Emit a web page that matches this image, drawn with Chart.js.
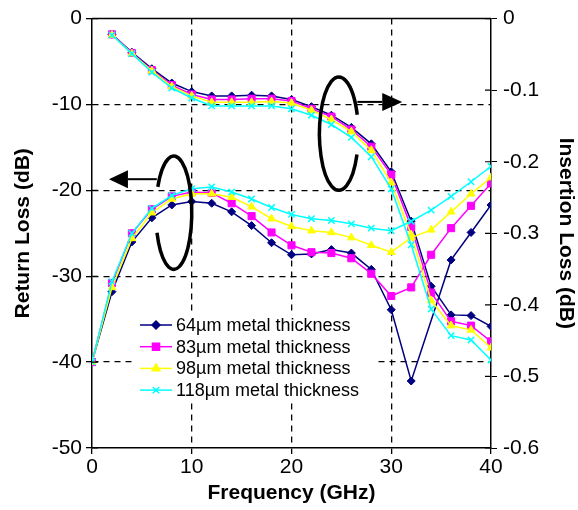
<!DOCTYPE html>
<html>
<head>
<meta charset="utf-8">
<script src="https://cdn.jsdelivr.net/npm/chart.js@4"></script>
<style>
  html, body { margin: 0; padding: 0; background: #fff; }
  #wrap { width: 578px; height: 510px; }
</style>
</head>
<body>
<div id="wrap"><canvas id="myChart" width="578" height="510"></canvas></div>
<script>
// frequency points (GHz)
const freq = [0, 2, 4, 6, 8, 10, 12, 14, 16, 18, 20, 22, 24, 26, 28, 30, 32, 34, 36, 38, 40];

const seriesLabels = ["64µm metal thickness", "83µm metal thickness", "98µm metal thickness", "118µm metal thickness"];

// return loss (dB), left axis
const rl64 = [-40, -31.8, -26.0, -23.2, -21.7, -21.3, -21.5, -22.5, -24.1, -26.1, -27.5, -27.4, -26.9, -27.3, -29.2, -33.9, -42.2, null, -28.1, -24.9, -21.7];
const rl83 = [-40, -30.8, -25.0, -22.2, -20.7, -20.2, -20.3, -21.5, -23.0, -24.9, -26.4, -27.2, -27.3, -27.9, -29.7, -32.3, -31.3, -27.5, -24.4, -21.8, -19.2];
const rl98 = [-40, -31.3, -25.6, -22.6, -21.0, -20.4, -20.4, -20.8, -21.9, -23.3, -24.2, -24.7, -24.9, -25.5, -26.4, -27.2, -25.5, -24.6, -22.5, -20.4, -18.5];
const rl118 = [-40, -30.6, -25.0, -22.1, -20.6, -19.8, -19.6, -20.2, -21.0, -22.0, -22.8, -23.3, -23.5, -23.9, -24.4, -24.7, -23.6, -22.3, -20.7, -19.0, -17.2];

// insertion loss (dB), right axis
const il64 = [null, -0.022, -0.047, -0.070, -0.090, -0.102, -0.108, -0.108, -0.107, -0.108, -0.113, -0.123, -0.135, -0.152, -0.175, -0.214, -0.283, -0.374, -0.414, -0.415, -0.430];
const il83 = [null, -0.022, -0.048, -0.072, -0.093, -0.106, -0.113, -0.113, -0.112, -0.112, -0.115, -0.126, -0.137, -0.155, -0.179, -0.218, -0.291, -0.383, -0.423, -0.429, -0.451];
const il98 = [null, -0.023, -0.049, -0.073, -0.095, -0.108, -0.117, -0.117, -0.117, -0.116, -0.118, -0.128, -0.141, -0.158, -0.184, -0.229, -0.302, -0.394, -0.429, -0.435, -0.460];
const il118 = [null, -0.023, -0.049, -0.075, -0.097, -0.111, -0.122, -0.122, -0.122, -0.122, -0.126, -0.135, -0.148, -0.166, -0.193, -0.238, -0.316, -0.406, -0.443, -0.449, -0.477];

const returnLoss = [rl64, rl83, rl98, rl118];
const insertionLoss = [il64, il83, il98, il118];

const styles = [
  { color: "#000080", pointStyle: "rectRot", radius: 4 },
  { color: "#ff00ff", pointStyle: "rect", radius: 5 },
  { color: "#ffff00", pointStyle: "triangle", radius: 4.5 },
  { color: "#00ffff", pointStyle: "crossRot", radius: 4.5 },
];

const FONT = "'Liberation Sans', Arial, Helvetica, sans-serif";

const toPoints = (arr) => freq.map((f, i) => ({ x: f, y: arr[i] }));

const makeDataset = (arr, i, axis) => ({
  label: seriesLabels[i],
  data: toPoints(arr),
  yAxisID: axis,
  borderColor: styles[i].color,
  backgroundColor: styles[i].color,
  borderWidth: 1.5,
  pointStyle: styles[i].pointStyle,
  pointRadius: styles[i].radius,
  pointBorderWidth: styles[i].pointStyle === "crossRot" ? 1.5 : 1,
  pointBorderColor: styles[i].color,
  pointBackgroundColor: styles[i].color,
  tension: 0,
  spanGaps: true,
  order: 4 - i,
});

const datasets = [];
returnLoss.forEach((arr, i) => datasets.push(makeDataset(arr, i, "y")));
insertionLoss.forEach((arr, i) => datasets.push(makeDataset(arr, i, "y2")));

// frame, inner tick marks, rotation arrows and the legend box
const extras = {
  id: "extras",
  afterDatasetsDraw(chart) {
    const { ctx, chartArea: a, scales } = chart;
    const { x, y, y2 } = scales;
    ctx.save();

    // top frame line
    ctx.strokeStyle = "#000";
    ctx.lineWidth = 1.5;
    ctx.beginPath();
    ctx.moveTo(a.left, a.top);
    ctx.lineTo(a.right, a.top);
    ctx.stroke();

    // tick marks crossing into the plot
    ctx.lineWidth = 1.2;
    ctx.beginPath();
    y.ticks.forEach((t) => {
      const py = y.getPixelForValue(t.value);
      ctx.moveTo(a.left, py);
      ctx.lineTo(a.left + 6, py);
    });
    y2.ticks.forEach((t) => {
      const py = y2.getPixelForValue(t.value);
      ctx.moveTo(a.right - 6, py);
      ctx.lineTo(a.right, py);
    });
    ctx.stroke();

    // rotation marks (ellipse + arrow)
    const arrows = [
      { cx: 8.2, cy: -22.6, rx: 1.8, ry: 6.6, a0: 3.615, a1: 2.78 + 2 * Math.PI,
        ay: -18.7, from: 6.5, base: 3.6, tip: 1.7 },
      { cx: 24.75, cy: -13.4, rx: 1.95, ry: 6.6, a0: 0.377, a1: 2 * Math.PI - 0.34,
        ay: -9.7, from: 26.6, base: 29.1, tip: 31.1 },
    ];
    arrows.forEach((r) => {
      const cx = x.getPixelForValue(r.cx);
      const cy = y.getPixelForValue(r.cy);
      const rx = x.getPixelForValue(r.cx + r.rx) - cx;
      const ry = y.getPixelForValue(r.cy - r.ry) - cy;
      ctx.lineWidth = 3.5;
      ctx.beginPath();
      ctx.ellipse(cx, cy, rx, ry, 0, r.a0, r.a1);
      ctx.stroke();

      const py = y.getPixelForValue(r.ay);
      const pFrom = x.getPixelForValue(r.from);
      const pBase = x.getPixelForValue(r.base);
      const pTip = x.getPixelForValue(r.tip);
      ctx.lineWidth = 2;
      ctx.beginPath();
      ctx.moveTo(pFrom, py);
      ctx.lineTo(pBase, py);
      ctx.stroke();
      ctx.fillStyle = "#000";
      ctx.beginPath();
      ctx.moveTo(pTip, py);
      ctx.lineTo(pBase, py - 9);
      ctx.lineTo(pBase, py + 9);
      ctx.closePath();
      ctx.fill();
    });

    // legend
    const lx = 140, ly = 325, row = 21.7;
    ctx.fillStyle = "#fff";
    ctx.fillRect(lx - 4, ly - 12, 242, row * 4 + 3);
    ctx.font = "18px " + FONT;
    ctx.textBaseline = "middle";
    styles.forEach((s, i) => {
      const yy = ly + i * row;
      ctx.strokeStyle = s.color;
      ctx.fillStyle = s.color;
      ctx.lineWidth = 1.5;
      ctx.beginPath();
      ctx.moveTo(lx, yy);
      ctx.lineTo(lx + 32, yy);
      ctx.stroke();
      Chart.helpers.drawPoint(ctx, {
        pointStyle: s.pointStyle,
        radius: s.radius,
        rotation: 0,
        borderWidth: s.pointStyle === "crossRot" ? 1.5 : 1,
      }, lx + 16, yy);
      ctx.fillStyle = "#000";
      ctx.fillText(seriesLabels[i], lx + 36, yy + 1);
    });

    ctx.restore();
  },
};

const edgeColor = (min, max) => (c) =>
  c.tick && (c.tick.value === min || c.tick.value === max) ? "rgba(0,0,0,0)" : "#000";

new Chart(document.getElementById("myChart"), {
  type: "line",
  data: { datasets },
  options: {
    responsive: false,
    animation: false,
    layout: { padding: { top: 15 } },
    plugins: {
      legend: { display: false },
      tooltip: { enabled: false },
    },
    scales: {
      x: {
        type: "linear",
        min: 0,
        max: 40,
        ticks: { stepSize: 10, color: "#000", font: { family: FONT, size: 21 }, padding: 1 },
        grid: { color: edgeColor(0, 40), lineWidth: 1.3, tickColor: "#000", tickLength: 6 },
        border: { color: "#000", width: 1.5, dash: [6, 5] },
        title: { display: true, text: "Frequency (GHz)", color: "#000",
                 font: { family: FONT, size: 21, weight: "bold" }, padding: { top: 2, bottom: 4 } },
        afterFit: (s) => { s.height = 62; },
      },
      y: {
        position: "left",
        min: -50,
        max: 0,
        ticks: { stepSize: 10, color: "#000", font: { family: FONT, size: 21 }, padding: 4 },
        grid: { color: edgeColor(-50, 0), lineWidth: 1.3, tickColor: "#000", tickLength: 6 },
        border: { color: "#000", width: 1.5, dash: [6, 5] },
        title: { display: true, text: "Return Loss (dB)", color: "#000",
                 font: { family: FONT, size: 21, weight: "bold" }, padding: { top: 11, bottom: 4 } },
        afterFit: (s) => { s.width = 92; },
      },
      y2: {
        position: "right",
        min: -0.6,
        max: 0,
        ticks: { stepSize: 0.1, color: "#000", font: { family: FONT, size: 21 }, padding: 6,
                 callback: (v) => String(Number(v.toFixed(1))) },
        grid: { drawOnChartArea: false, tickColor: "#000", tickLength: 6 },
        border: { color: "#000", width: 1.5 },
        title: { display: true, text: "Insertion Loss (dB)", color: "#000",
                 font: { family: FONT, size: 21, weight: "bold" }, padding: { top: 0, bottom: 4 } },
        afterFit: (s) => { s.width = 87; },
      },
    },
  },
  plugins: [extras],
});
</script>
</body>
</html>
